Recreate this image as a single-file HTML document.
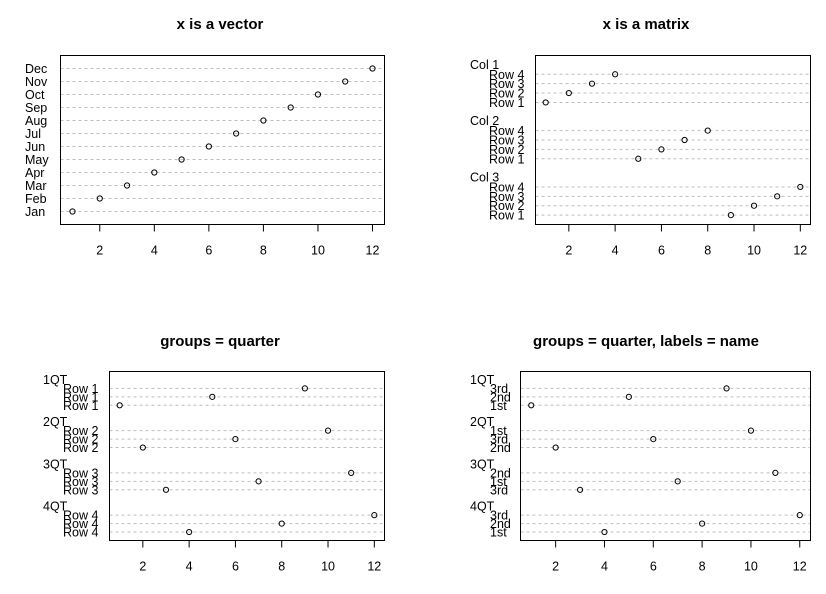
<!DOCTYPE html>
<html><head><meta charset="utf-8">
<style>
html,body{margin:0;padding:0;background:#fff;}
svg{display:block;font-family:"Liberation Sans",Arial,sans-serif;}
</style></head>
<body>
<svg id="chart" width="826" height="594" viewBox="0 0 826 594" xmlns="http://www.w3.org/2000/svg"></svg>
<script>
// Panel 1: x is a vector
const p1Labels = ["Jan","Feb","Mar","Apr","May","Jun","Jul","Aug","Sep","Oct","Nov","Dec"];
const p1Values = [1,2,3,4,5,6,7,8,9,10,11,12];
// Panel 2: x is a matrix (groups listed top to bottom; rows bottom to top)
const p2Groups = ["Col 1","Col 2","Col 3"];
const p2RowLabels = [["Row 1","Row 2","Row 3","Row 4"],["Row 1","Row 2","Row 3","Row 4"],["Row 1","Row 2","Row 3","Row 4"]];
const p2Values = [[1,2,3,4],[5,6,7,8],[9,10,11,12]];
// Panel 3: groups = quarter
const p3Groups = ["1QT","2QT","3QT","4QT"];
const p3RowLabels = [["Row 1","Row 1","Row 1"],["Row 2","Row 2","Row 2"],["Row 3","Row 3","Row 3"],["Row 4","Row 4","Row 4"]];
const p3Values = [[1,5,9],[2,6,10],[3,7,11],[4,8,12]];
// Panel 4: groups = quarter, labels = name
const p4Groups = ["1QT","2QT","3QT","4QT"];
const p4RowLabels = [["1st","2nd","3rd"],["2nd","3rd","1st"],["3rd","1st","2nd"],["1st","2nd","3rd"]];
const p4Values = [[1,5,9],[2,6,10],[3,7,11],[4,8,12]];
const xTicks = [2,4,6,8,10,12];
const titles = ["x is a vector","x is a matrix","groups = quarter","groups = quarter, labels = name"];

const NS = "http://www.w3.org/2000/svg";
const svg = document.getElementById("chart");
function mk(tag, attrs, parent){
  const e = document.createElementNS(NS, tag);
  for (const k in attrs) e.setAttribute(k, attrs[k]);
  (parent||svg).appendChild(e);
  return e;
}

function panel(cfg){
  const g = mk("g", {});
  
  
  const {L,R,T,B} = cfg.box;
  // build positions from bottom
  let items = []; // {pos,label,value,isGroup}
  let p = 1;
  if (!cfg.groups){
    cfg.labels.forEach((lab,i)=>{ items.push({pos:p++, label:lab, value:cfg.values[i]}); });
  } else {
    for (let gi = cfg.groups.length-1; gi >= 0; gi--){
      cfg.rowLabels[gi].forEach((lab,i)=>{ items.push({pos:p++, label:lab, value:cfg.values[gi][i]}); });
      items.push({pos:p++, label:cfg.groups[gi], isGroup:true});
      if (gi > 0) p++;
    }
  }
  const n = p - 1;
  const yScale = v => B - v * (B - T) / (n + 1);
  const allVals = items.filter(d=>!d.isGroup).map(d=>d.value);
  const vmin = Math.min(...allVals), vmax = Math.max(...allVals);
  const pad = (vmax - vmin) * 0.04;
  const xScale = v => L + (v - (vmin - pad)) / ((vmax + pad) - (vmin - pad)) * (R - L);

  const title = mk("text", {x:cfg.titleX, y:cfg.titleY, "text-anchor":"middle", "font-size":"15", "font-weight":"bold", fill:"#000"}, g);
  title.textContent = cfg.title;
  
  

  items.forEach(d=>{
    const y = yScale(d.pos);
    if (d.isGroup){
      const t = mk("text", {x:cfg.groupX, y:y+4, "font-size":"12.5", fill:"#000"}, g);
      t.textContent = d.label;
      
      
      return;
    }
    const ln = mk("line", {x1:L, x2:R, y1:y, y2:y, stroke:"#bebebe", "stroke-width":"1", "stroke-dasharray":"3,3"}, g);
    
    
    const t = mk("text", {x:cfg.rowX, y:y+4.5, "font-size":"12.5", fill:"#000"}, g);
    t.textContent = d.label;
    
    
    const c = mk("circle", {cx:xScale(d.value), cy:y, r:2.6, fill:"none", stroke:"#000", "stroke-width":"1"}, g);
    
    
  });

  const box = mk("rect", {x:L, y:T, width:R-L, height:B-T, fill:"none", stroke:"#000", "stroke-width":"1"}, g);
  
  

  xTicks.forEach(v=>{
    const x = xScale(v);
    const tk = mk("line", {x1:x, x2:x, y1:B, y2:B+7, stroke:"#000", "stroke-width":"1"}, g);
    
    
    const tl = mk("text", {x:x, y:B+30, "text-anchor":"middle", "font-size":"12.5", fill:"#000"}, g);
    tl.textContent = v;
    
    
  });
}

panel({name:"panel-vector", title:titles[0], titleX:220, titleY:29, box:{L:60.5,R:384.5,T:55.5,B:224.5},
  labels:p1Labels, values:p1Values, rowX:25});
panel({name:"panel-matrix", title:titles[1], titleX:646, titleY:29, box:{L:535.5,R:810.5,T:55.5,B:224.5},
  groups:p2Groups, rowLabels:p2RowLabels, values:p2Values, groupX:470, rowX:489});
panel({name:"panel-groups-quarter", title:titles[2], titleX:220, titleY:346, box:{L:109.5,R:384.5,T:371.5,B:540.5},
  groups:p3Groups, rowLabels:p3RowLabels, values:p3Values, groupX:43, rowX:63});
panel({name:"panel-groups-quarter-labels", title:titles[3], titleX:646, titleY:346, box:{L:520.5,R:810.5,T:371.5,B:540.5},
  groups:p4Groups, rowLabels:p4RowLabels, values:p4Values, groupX:470, rowX:490});
</script>
</body></html>
